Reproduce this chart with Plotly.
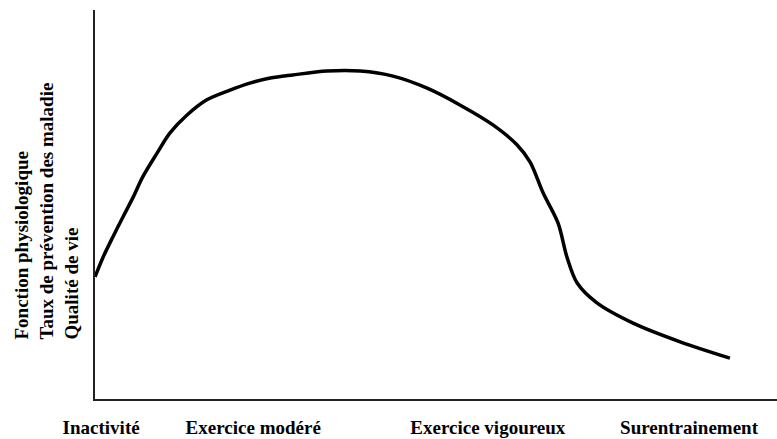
import plotly.graph_objects as go

# Curve: exercise intensity (0-100) vs benefit (0-100)
intensity = [0, 1.2, 2.6, 4.1, 5.6, 7.0, 9.1, 11.0, 13.5, 16.4, 19.8, 22.7, 25.7, 29.0, 34.0,
             38.9, 43.7, 48.7, 53.5, 58.4, 61.9, 63.8, 65.7, 67.9, 69.2, 70.7, 73.6, 78.9,
             85.8, 93.1]
benefit = [31.4, 36.5, 41.6, 46.8, 51.9, 57.1, 63.2, 68.4, 73.0, 76.9, 79.4, 81.2, 82.5, 83.3,
           84.3, 84.3, 83.0, 79.9, 75.6, 70.4, 65.3, 60.9, 53.0, 45.2, 36.5, 29.8, 24.7, 19.5,
           14.7, 10.5]

tick_positions = [0.9, 23.2, 57.6, 87.1]
tick_labels = ["Inactivité", "Exercice modéré", "Exercice vigoureux", "Surentrainement"]
y_title = "Fonction physiologique<br>Taux de prévention des maladie<br>Qualité de vie"

FONT = "Liberation Serif, Times New Roman, serif"

fig = go.Figure()
fig.add_trace(go.Scatter(x=intensity, y=benefit, mode="lines",
                         line=dict(color="black", width=3.5, shape="spline", smoothing=0.9),
                         hoverinfo="skip", showlegend=False))

fig.update_layout(
    width=777, height=439,
    margin=dict(l=95, r=0, t=10, b=40),
    paper_bgcolor="white", plot_bgcolor="white",
    font=dict(family=FONT, color="black"),
    xaxis=dict(range=[0, 100], showgrid=False, zeroline=False,
               showline=True, linecolor="#222", linewidth=2,
               tickvals=tick_positions, ticktext=tick_labels,
               ticks="", ticklabelstandoff=10,
               tickfont=dict(family=FONT, size=19, color="black", weight="bold")),
    yaxis=dict(range=[0, 100], showgrid=False, zeroline=False,
               showline=True, linecolor="#222", linewidth=2,
               showticklabels=False, ticks=""),
    annotations=[dict(text=y_title, xref="paper", yref="paper",
                      x=-(95 - 46) / 682, y=0.482, xanchor="center", yanchor="middle",
                      textangle=-90, showarrow=False, align="left",
                      font=dict(family=FONT, size=19, color="black", weight="bold"))],
)

fig.write_html("out.html", config={"displayModeBar": False},
               post_script="document.body.style.margin='0';document.body.style.overflow='hidden';")
